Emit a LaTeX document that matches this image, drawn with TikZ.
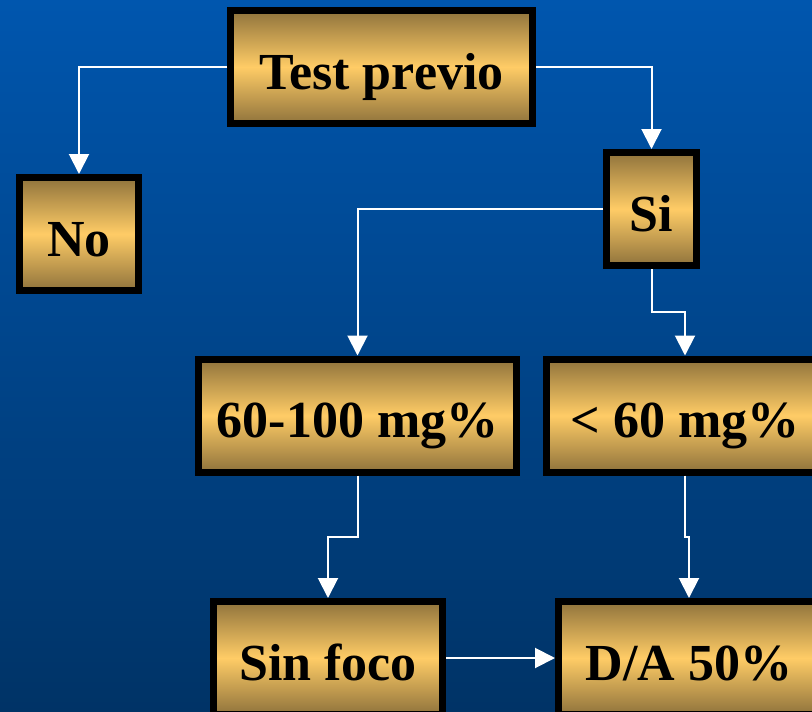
\documentclass[tikz,border=0pt]{standalone}
\usepackage{fontspec}
\setmainfont{Liberation Serif}
\usepackage{tikz}
\usetikzlibrary{arrows.meta, calc}
\definecolor{fcBgTop}{HTML}{0056AE}
\definecolor{fcBgBottom}{HTML}{003366}
\definecolor{fcGoldDark}{HTML}{8F733C}
\definecolor{fcGoldLight}{HTML}{FFCC66}
\tikzset{
  fcbox/.style={draw=black, line width=7pt, top color=fcGoldDark,
    bottom color=fcGoldDark, middle color=fcGoldLight, text=black,
    font=\bfseries\fontsize{52}{60}\selectfont, text height=44pt,
    text depth=0pt, inner sep=0pt, minimum height=113pt},
  fcedge/.style={-{Triangle[length=20pt, width=20pt]}, line width=2pt, draw=white},
}

\begin{document}
\begin{tikzpicture}[x=1pt, y=-1pt]

  % --- Frame and background ----------------------------------------------
  \useasboundingbox (0,0) rectangle (812,712);
  \clip (0,0) rectangle (812,712);
  \shade[top color=fcBgTop, bottom color=fcBgBottom] (0,0) rectangle (812,712);

  % --- Boxes ---------------------------------------------------------------
  \node[fcbox, minimum width=302pt] (test)    at (381.5,67)  {Test previo};
  \node[fcbox, minimum width=119pt] (no)      at (79,234)    {No};
  \node[fcbox, minimum width=90pt]  (si)      at (651.5,209) {Si};
  \node[fcbox, minimum width=318pt] (mid)     at (357.5,415.5) {60-100 mg\%};
  \node[fcbox, minimum width=277pt] (low)     at (685,415.5) {< 60 mg\%};
  \node[fcbox, minimum width=229pt] (sinfoco) at (328,658)   {Sin foco};
  \node[fcbox, minimum width=261pt] (da)      at (689,658)   {D/A 50\%};

  % --- Connectors ----------------------------------------------------------
  \draw[fcedge] (test.west) -| (no.north);
  \draw[fcedge] (test.east) -| (si.north);
  \draw[fcedge] (si.west) -| (mid.north);
  \draw[fcedge] (si.south) |- ($(si.south)!0.5!(low.north)$) -| (low.north);
  \draw[fcedge] (mid.south) |- ($(mid.south)!0.5!(sinfoco.north)$) -| (sinfoco.north);
  \draw[fcedge] (low.south) |- ($(low.south)!0.5!(da.north)$) -| (da.north);
  \draw[fcedge] (sinfoco.east) -- (da.west);

\end{tikzpicture}
\end{document}
